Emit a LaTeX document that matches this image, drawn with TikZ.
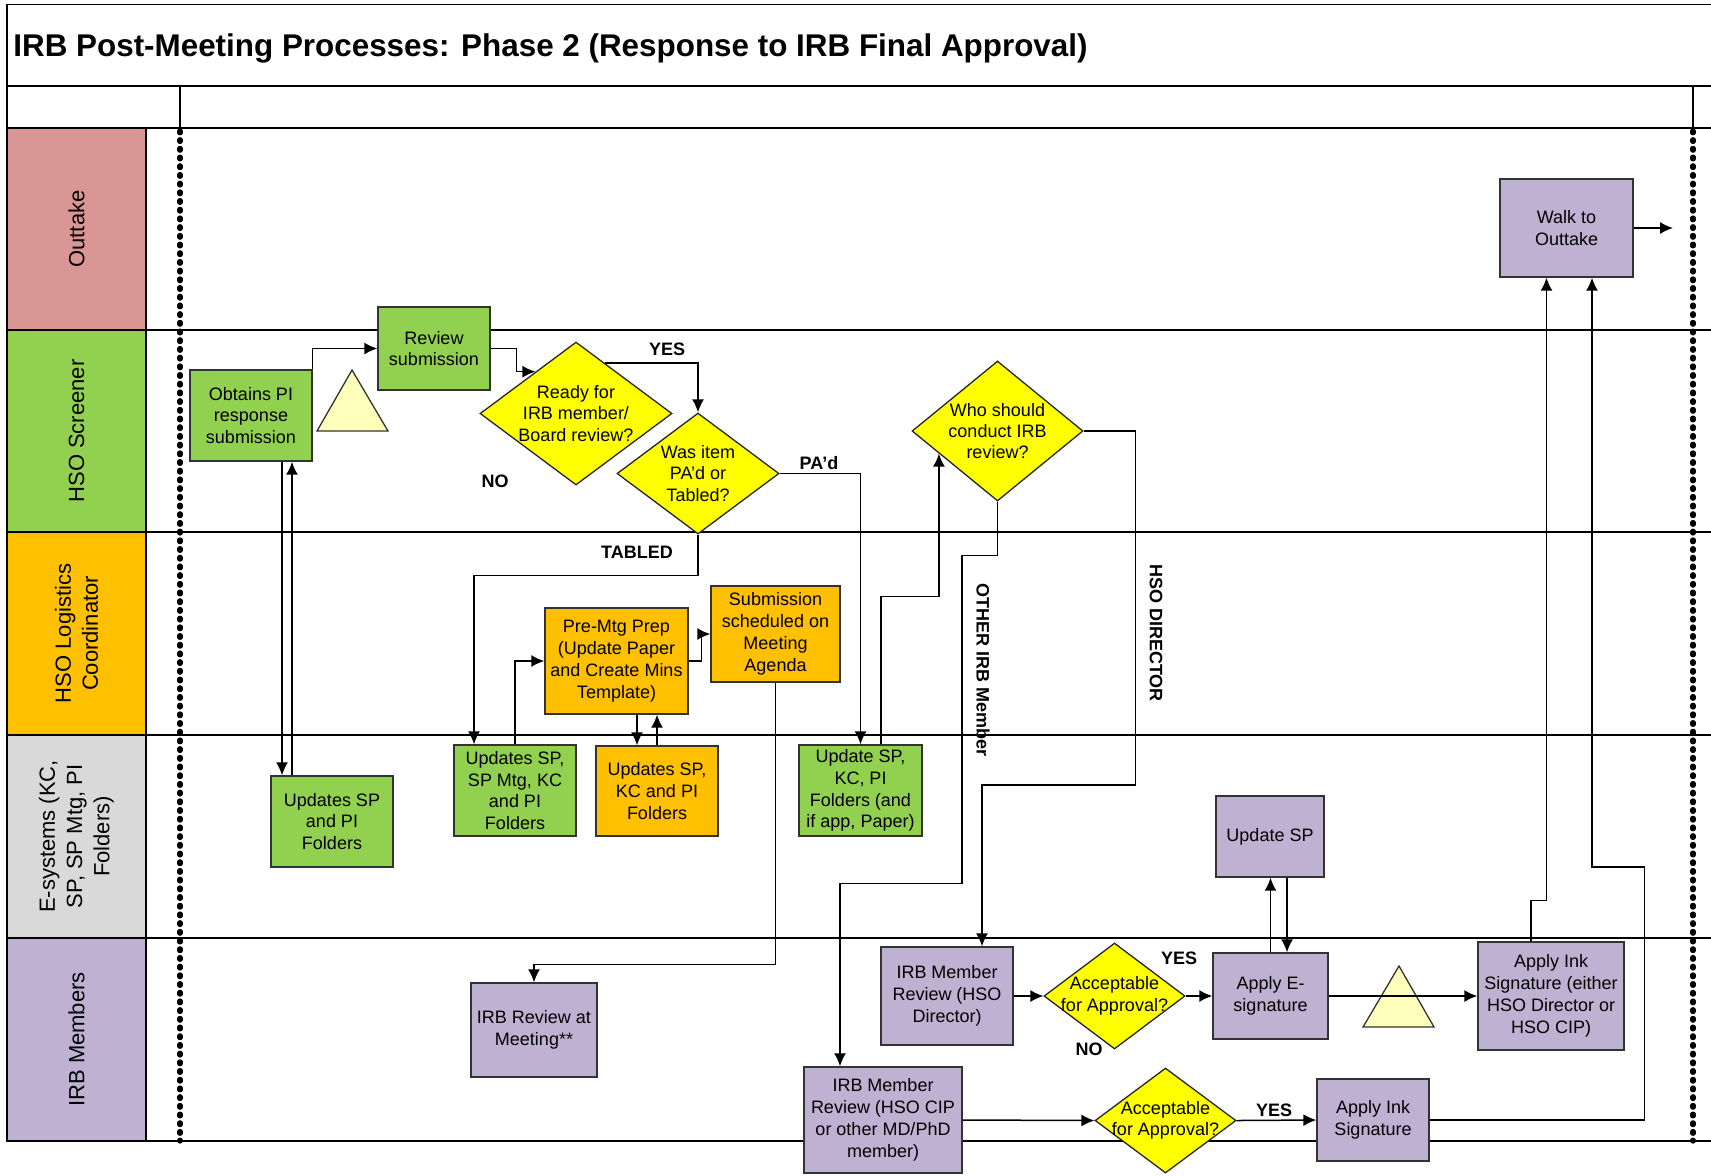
\documentclass[tikz,border=0pt]{standalone}
\usepackage{fontspec}
\setmainfont{Liberation Sans}
\usetikzlibrary{arrows.meta,shapes.geometric,calc}

\definecolor{laneRed}{RGB}{217,150,148}
\definecolor{laneGreen}{RGB}{146,208,80}
\definecolor{laneOrange}{RGB}{255,192,0}
\definecolor{laneGrey}{RGB}{217,217,217}
\definecolor{lanePurple}{RGB}{191,177,210}
\definecolor{decYellow}{RGB}{255,255,0}
\definecolor{waitYellow}{RGB}{255,255,187}

\tikzset{
  frame/.style={line width=0.8pt},
  divider/.style={line width=2.6pt, line cap=round, dash pattern=on 0.9pt off 3.45pt},
  lanetext/.style={rotate=90, align=center, inner sep=0pt, font=\fontsize{11}{13.6}\selectfont},
  proc/.style={rectangle, draw=black!80, line width=0.7pt, align=center, inner sep=1pt,
    font=\fontsize{9}{10.9}\selectfont},
  decide/.style={diamond, draw=black!85, fill=decYellow, line width=0.65pt, inner sep=0pt},
  dtext/.style={align=center, inner sep=0pt, font=\fontsize{9}{10.7}\selectfont},
  flag/.style={inner sep=0pt, font=\fontsize{9}{10.9}\selectfont\bfseries},
  waitmark/.style={draw=black!80, fill=waitYellow, line width=0.65pt},
  flow/.style={line width=0.75pt, -{Latex[length=6.5pt,width=6pt]}}
}

\begin{document}
\begin{tikzpicture}[x=0.5pt, y=-0.5pt]
    \useasboundingbox (0,0) rectangle (1711,1175);

    % frame and lanes
    \draw[frame] (1711,4.5) -- (7,4.5) -- (7,1141);
    \draw[frame] (7,86) -- (1711,86);
    \draw[frame] (7,128) -- (1711,128);
    \node[anchor=base west, inner sep=0pt, font=\fontsize{15.7}{19}\selectfont\bfseries] (title) at (13,56)
        {IRB Post-Meeting Processes: Phase 2 (Response to IRB Final Approval)};
    \foreach \top/\bot/\col/\txt in {128/330/laneRed/Outtake, 330/532/laneGreen/HSO Screener,
        532/735/laneOrange/{HSO Logistics\\Coordinator}, 735/938/laneGrey/{E-systems (KC,\\SP, SP Mtg, PI\\Folders)},
        938/1141/lanePurple/IRB Members}{
        \draw[frame, fill=\col] (7,\top) rectangle (146,\bot);
        \draw[frame] (146,\bot) -- (1711,\bot);
        \node[lanetext] (lane-\top) at (76.5,{(\top+\bot)/2}) {\txt};
    }
    \draw[line width=0.6pt] (180,86) -- (180,128);
    \draw[line width=0.6pt] (1693,86) -- (1693,128);
    \draw[divider] (180,131) -- (180,1141);
    \draw[divider] (1693,131) -- (1693,1141);

    \draw[waitmark] (317,431) -- (352,370) -- (388,431) -- cycle;
    \draw[waitmark] (1363,1027) -- (1399,966) -- (1434,1027) -- cycle;

    % HSO Screener
    \node[proc, fill=laneGreen, minimum width=61pt, minimum height=45.5pt] (obtain) at (251,415.5) {Obtains PI\\response\\submission};
    \node[proc, fill=laneGreen, minimum width=56pt, minimum height=41.5pt] (review) at (434,348.5) {Review\\submission};
    \node[decide, minimum width=96pt, minimum height=71.5pt] (ready) at (576,413.5) {};
    \node[dtext] (ready-t) at (ready) {Ready for\\IRB member/\\Board review?};
    \node[decide, minimum width=81pt, minimum height=60.5pt] (was) at (698,473.5) {};
    \node[dtext] (was-t) at (was) {Was item\\PA’d or\\Tabled?};
    \node[decide, minimum width=85.5pt, minimum height=70pt] (who) at (997.5,431) {};
    \node[dtext] (who-t) at (who) {Who should\\conduct IRB\\review?};

    % HSO Logistics Coordinator
    \node[proc, fill=laneOrange, minimum width=71.5pt, minimum height=53pt] (prep) at (616.5,661) {Pre-Mtg Prep\\(Update Paper\\and Create Mins\\Template)};
    \node[proc, fill=laneOrange, minimum width=64.5pt, minimum height=48pt] (sched) at (775.5,634) {Submission\\scheduled on\\Meeting\\Agenda};

    % E-systems
    \node[proc, fill=laneGreen, minimum width=61pt, minimum height=45.5pt] (upd1) at (332,821.5) {Updates SP\\and PI\\Folders};
    \node[proc, fill=laneGreen, minimum width=61pt, minimum height=45.5pt] (upd2) at (515,790.5) {Updates SP,\\SP Mtg, KC\\and PI\\Folders};
    \node[proc, fill=laneOrange, minimum width=61pt, minimum height=45pt] (upd3) at (657,791) {Updates SP,\\KC and PI\\Folders};
    \node[proc, fill=laneGreen, minimum width=61.5pt, minimum height=45.5pt] (upd4) at (860.5,790.5) {Update SP,\\KC, PI\\Folders (and\\if app, Paper)};
    \node[proc, fill=lanePurple, minimum width=54pt, minimum height=40.5pt] (updsp) at (1270,836.5) {Update SP};

    % IRB Members and Outtake
    \node[proc, fill=lanePurple, minimum width=63pt, minimum height=47pt] (meet) at (534,1030) {IRB Review at\\Meeting**};
    \node[proc, fill=lanePurple, minimum width=66pt, minimum height=49pt] (dirrev) at (947,996) {IRB Member\\Review (HSO\\Director)};
    \node[proc, fill=lanePurple, minimum width=79pt, minimum height=53pt] (cip) at (883,1120) {IRB Member\\Review (HSO CIP\\or other MD/PhD\\member)};
    \node[decide, minimum width=70.5pt, minimum height=53pt] (acc1) at (1114.5,996) {};
    \node[dtext] (acc1-t) at (acc1) {Acceptable\\for Approval?};
    \node[decide, minimum width=70.5pt, minimum height=52.5pt] (acc2) at (1165.5,1120.5) {};
    \node[dtext] (acc2-t) at (acc2) {Acceptable\\for Approval?};
    \node[proc, fill=lanePurple, minimum width=57.5pt, minimum height=43pt] (esig) at (1270.5,996) {Apply E-\\signature};
    \node[proc, fill=lanePurple, minimum width=73pt, minimum height=54pt] (ink1) at (1551,996) {Apply Ink\\Signature (either\\HSO Director or\\HSO CIP)};
    \node[proc, fill=lanePurple, minimum width=56pt, minimum height=41pt] (ink2) at (1373,1120) {Apply Ink\\Signature};
    \node[proc, fill=lanePurple, minimum width=66.5pt, minimum height=49pt] (walk) at (1566.5,228) {Walk to\\Outtake};
    \coordinate (exit) at (1673,228);

    % connectors
    \draw[flow] (obtain.north east) |- (review.west);
    \draw[flow] ([xshift=15.5pt]obtain.south) -- ([xshift=15.5pt]obtain.south |- upd1.north);
    \draw[flow] ([xshift=-20pt]upd1.north) -- ([xshift=-20pt]upd1.north |- obtain.south);
    \draw[flow] (review.east) -- ++(26,0) |- ($(ready.north)!0.42!(ready.west)$);
    \draw[flow] ($(ready.north)!0.3!(ready.east)$) -| (was.north);
    \draw[flow] (was.south) -- ++(0,41) -| ([xshift=-20.5pt]upd2.north);
    \draw[flow] (was.east) -| (upd4.north);
    \draw[flow] (upd2.north) |- (prep.west);
    \draw[flow] ([xshift=10.25pt]prep.south) -- ([xshift=10.25pt]prep.south |- upd3.north);
    \draw[flow] (upd3.north) -- (upd3.north |- prep.south);
    \draw[flow] (prep.east) -- ++(13,0) |- (sched.west);
    \draw[flow] (sched.south) -- ++(0,282) -| (meet.north);
    \draw[flow] ([xshift=10.25pt]upd4.north) -- ++(0,-148) -| ($(who.west)!0.32!(who.south)$);
    \draw[flow] (who.south) -- ++(0,54) -- ++(-35.5,0) -- ++(0,328) -| ([xshift=-21.5pt]cip.north);
    \draw[flow] (who.east) -- ++(52,0) -- ++(0,354) -| ([xshift=17.5pt]dirrev.north);
    \draw[flow] (dirrev.east) -- (acc1.west);
    \draw[flow] (acc1.east) -- (esig.west);
    \draw[flow] (esig.north) -- (esig.north |- updsp.south);
    \draw[flow] ([xshift=8.5pt]updsp.south) -- ([xshift=8.5pt]updsp.south |- esig.north);
    \draw[flow] (esig.east) -- (ink1.west);
    \draw[flow] (cip.east) -- (acc2.west);
    \draw[flow] (acc2.east) -- (ink2.west);
    \draw[flow] ([xshift=-10pt]ink1.north) -- ++(0,-41) -| ([xshift=-10pt]walk.south);
    \draw[flow] (ink2.east) -- ++(215,0) -- ++(0,-253) -| ([xshift=12.75pt]walk.south);
    \draw[flow] (walk.east) -- (exit);

    % branch labels
    \node[flag] (yes1) at (667,349) {YES};
    \node[flag] (no1) at (495,481) {NO};
    \node[flag] (pad) at (819,463) {PA’d};
    \node[flag] (tabled) at (637,552) {TABLED};
    \node[flag] (yes2) at (1179,958) {YES};
    \node[flag] (no2) at (1089,1049) {NO};
    \node[flag] (yes3) at (1274,1110) {YES};
    \node[flag, rotate=-90] (other) at (983,670) {OTHER IRB Member};
    \node[flag, rotate=-90] (hsodir) at (1156,633) {HSO DIRECTOR};
\end{tikzpicture}
\end{document}
